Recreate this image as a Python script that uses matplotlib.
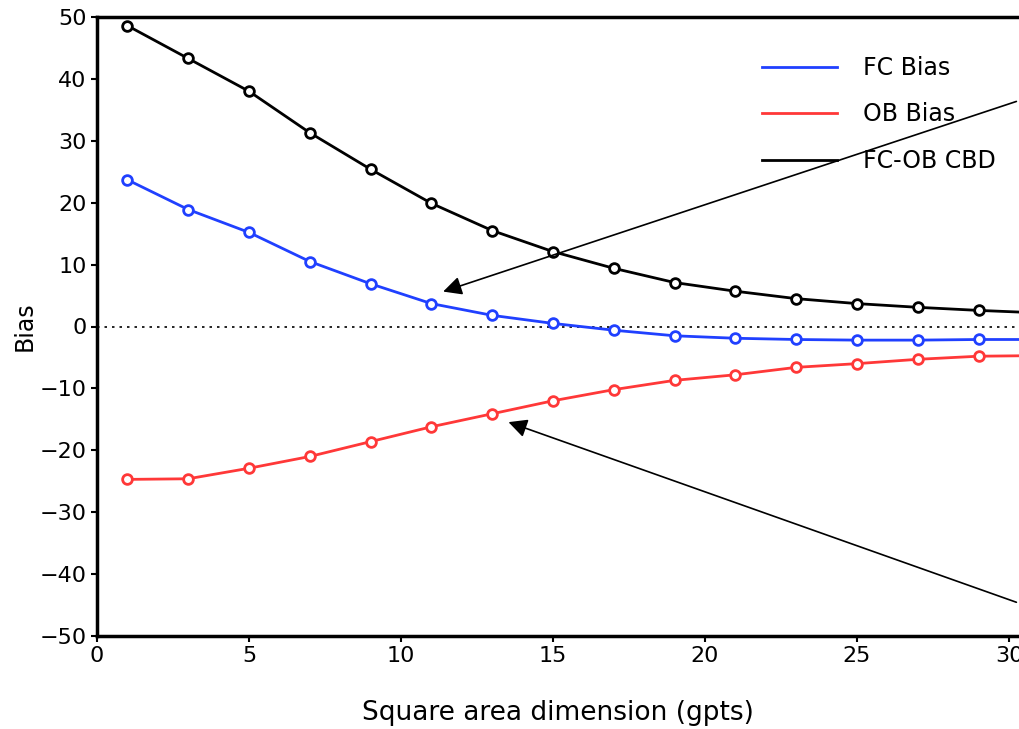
import numpy as np
import matplotlib
matplotlib.use('Agg')
import matplotlib.pyplot as plt

plt.rcParams['font.family'] = ['DejaVu Sans']

# square area dimension (gpts)
dims = [1, 3, 5, 7, 9, 11, 13, 15, 17, 19, 21, 23, 25, 27, 29, 31]
fc_bias = [23.7, 18.9, 15.2, 10.5, 6.9, 3.7, 1.8, 0.5, -0.6, -1.5, -1.9, -2.1, -2.2, -2.2, -2.1, -2.1]
ob_bias = [-24.7, -24.6, -22.9, -21.0, -18.6, -16.2, -14.1, -12.0, -10.2, -8.7, -7.8, -6.6, -6.0, -5.3, -4.8, -4.7]
cbd = [48.6, 43.3, 38.0, 31.3, 25.4, 19.9, 15.5, 12.1, 9.4, 7.1, 5.7, 4.5, 3.7, 3.1, 2.6, 2.2]

fig = plt.figure(figsize=(10.19, 7.29), dpi=100)
ax = fig.add_axes([97/1019, 93/729, 922/1019, 619/729])

ax.axhline(0, color='k', ls=(0, (1.5, 3)), lw=1.2)
ax.plot(dims, fc_bias, color='#2040ff', lw=2, marker='o', mfc='white', mec='#2040ff', mew=2, ms=7, label='FC Bias')
ax.plot(dims, ob_bias, color='#ff3838', lw=2, marker='o', mfc='white', mec='#ff3838', mew=2, ms=7, label='OB Bias')
ax.plot(dims, cbd, color='k', lw=2, marker='o', mfc='white', mec='k', mew=2, ms=7, label='FC-OB CBD')

# arrows pointing at the two bias curves (start outside the picture)
ax.annotate('', xy=(11.3, 5.5), xytext=(30.33, 36.5), annotation_clip=False,
            arrowprops=dict(arrowstyle='-|>', color='k', lw=1.2, mutation_scale=28))
ax.annotate('', xy=(13.45, -15.3), xytext=(30.33, -44.7), annotation_clip=False,
            arrowprops=dict(arrowstyle='-|>', color='k', lw=1.2, mutation_scale=28))

ax.set_xlim(0, 30.33)
ax.set_ylim(-50, 50)
ax.set_xticks(np.arange(0, 31, 5))
ax.set_yticks(np.arange(-50, 51, 10))
ax.tick_params(labelsize=16, width=1.5, length=4)
for s in ['left', 'bottom', 'top']:
    ax.spines[s].set_linewidth(2.5)
ax.spines['right'].set_visible(False)

ax.set_xlabel('Square area dimension (gpts)', fontsize=19, labelpad=24)
ax.set_ylabel('Bias', fontsize=17, labelpad=2)

ax.legend(loc='upper left', bbox_to_anchor=(0.721, 0.937), frameon=False, fontsize=17,
          borderpad=0, borderaxespad=0, handlelength=3.2, handletextpad=1.1,
          labelspacing=0.95, markerscale=0)

plt.savefig('out.png')
